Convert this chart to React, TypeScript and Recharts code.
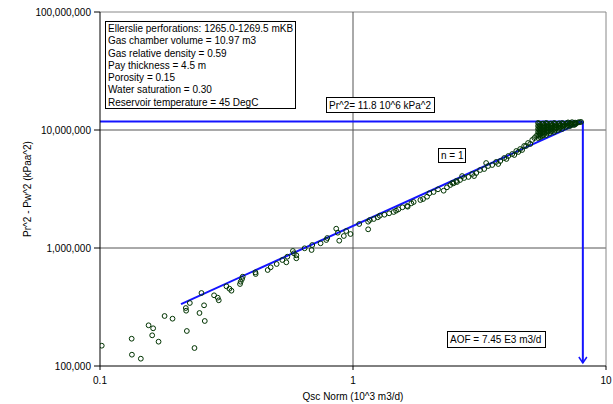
import {
  ComposedChart,
  Scatter,
  XAxis,
  YAxis,
  ReferenceLine,
} from "recharts";

// Qsc Norm (10^3 m3/d) and Pr^2 - Pw^2 (kPa^2), same order
const qscNorm = [
  0.1016, 0.1334, 0.1337, 0.145, 0.1556, 0.1622, 0.1608, 0.1704, 0.18, 0.1935,
  0.2184, 0.219, 0.2265, 0.2204, 0.2363, 0.2473, 0.2518, 0.2578, 0.2595, 0.2824,
  0.292, 0.2947, 0.3161, 0.3248, 0.3308, 0.3576, 0.3599, 0.3642, 0.3665, 0.4124,
  0.4113, 0.46, 0.4726, 0.4992, 0.5256, 0.5451, 0.5501,
  0.5787, 0.584, 0.5971, 0.5971, 0.6438, 0.6903, 0.686, 0.7445, 0.784, 0.7912,
  0.8584, 0.871, 0.8823, 0.9198, 0.9401, 0.9775, 1.058, 1.148, 1.148, 1.165,
  1.208, 1.253, 1.276, 1.331, 1.389, 1.448, 1.48, 1.512, 1.568, 1.636, 1.645,
  1.701, 1.737, 1.846, 1.892, 1.962, 2.004, 2.083, 2.168, 2.282, 2.352, 2.424, 2.498, 2.577,
  2.47, 2.56, 2.65, 2.75, 2.86, 2.96, 3.07, 3.18, 3.3, 3.42, 3.55,
  3.68, 3.82, 3.96, 4.11, 4.26, 4.42, 4.58, 4.75, 4.92, 5.11, 5.3,
  2.7, 3.01, 3.36, 3.75, 4.04, 4.34, 4.5, 4.66, 4.83, 5.02, 5.21,
  5.39, 5.39, 5.39, 5.39, 5.39, 5.39,
  5.59, 5.59, 5.59, 5.59, 5.59,
  5.8, 5.8, 5.8, 5.8, 5.8,
  6.01, 6.01, 6.01, 6.01,
  6.24, 6.24, 6.24, 6.24,
  6.47, 6.47, 6.47,
  6.71, 6.71, 6.71,
  6.95, 6.95, 7.21, 7.21, 7.48, 7.48, 7.75, 7.97,
  5.49, 5.49, 5.49, 5.49, 5.49,
  5.7, 5.7, 5.7, 5.7,
  5.9, 5.9, 5.9, 6.12, 6.12, 6.12,
  6.35, 6.35, 6.59, 6.59, 6.83, 7.08, 7.08, 7.34, 7.34, 7.61,
  5.44, 5.44, 5.44, 5.44, 5.44,
  5.64, 5.64, 5.64, 5.64, 5.64,
  5.85, 5.85, 5.85, 5.85,
  6.06, 6.06, 6.06, 6.06,
  6.29, 6.29, 6.29,
  6.53, 6.53, 6.53,
  6.77, 6.77, 7.01, 7.01, 7.27, 7.27, 7.55, 7.55, 7.85,
];

const deltaP2 = [
  148600, 170300, 124700, 115300, 221300, 208700, 182000, 160700, 265300, 251700,
  310000, 294200, 342000, 198000, 142000, 281300, 415600, 326900, 240700, 397400,
  379200, 360500, 473500, 451900, 434600, 495200, 518000, 546100, 571200, 602100,
  622400, 651000, 686200, 731700, 791200, 756400, 843700,
  943300, 901900, 867300, 817900, 994300, 1060000, 961800, 1096000, 1169000, 1215000,
  1457000, 1348000, 1153000, 1264000, 1393000, 1314000, 1597000, 1440000, 1671000, 1727000,
  1761000, 1821000, 1878000, 1915000, 1968000, 2019000, 2071000, 2128000, 2213000, 2270000, 2239000,
  2392000, 2453000, 2551000, 2601000, 2721000, 2908000, 2983000, 3144000, 3059000, 3268000, 3419000, 3534000, 3625000,
  3560000, 3700000, 3770000, 3920000, 4000000, 4240000, 4320000, 4580000, 4670000, 4950000, 5050000,
  5360000, 5460000, 5790000, 6020000, 6260000, 6640000, 6900000, 7320000, 7760000, 8230000, 8900000,
  4070000, 4070000, 5250000, 5150000, 5680000, 6140000, 6510000, 6770000, 7320000, 7610000, 8550000,
  11470000, 10810000, 10200000, 9620000, 9070000, 8550000,
  11240000, 10600000, 10000000, 9430000, 8900000,
  11470000, 10810000, 10200000, 9620000, 9070000,
  11240000, 10600000, 10000000, 9430000,
  11470000, 10810000, 10200000, 9620000,
  11240000, 10600000, 10000000,
  11470000, 10810000, 10200000,
  11240000, 10600000, 11470000, 10810000, 11470000, 11020000, 11600000, 11700000,
  11000000, 10400000, 9800000, 9250000, 8700000,
  11000000, 10400000, 9800000, 9250000,
  11000000, 10400000, 9800000, 11000000, 10400000, 9800000,
  11000000, 10400000, 11000000, 10400000, 11000000, 11000000, 11600000, 11200000, 11650000, 11300000,
  11300000, 10700000, 10100000, 9500000, 8950000,
  11350000, 10700000, 10100000, 9550000, 9000000,
  11300000, 10650000, 10050000, 9450000,
  11350000, 10800000, 10200000, 9700000,
  11300000, 10650000, 10000000,
  11400000, 10800000, 10250000,
  11300000, 10700000, 11450000, 10850000, 11300000, 11000000, 11550000, 11200000, 11650000,
];

const xTicks = [0.1, 1, 10];
const yTicks = [100000, 1000000, 10000000, 100000000];

const prSquared = 11800000;
const aofAxis = 8.1;
const fitStart = { x: 0.209, y: 335000 };

const infoLines = [
  "Ellerslie perforations: 1265.0-1269.5 mKB",
  "Gas chamber volume = 10.97 m3",
  "Gas relative density = 0.59",
  "Pay thickness = 4.5 m",
  "Porosity = 0.15",
  "Water saturation = 0.30",
  "Reservoir temperature = 45 DegC",
];

const points = qscNorm.map((x, i) => ({ x, y: deltaP2[i] }));

const BLUE = "#1414ff";
const GREEN = "#003300";

function HollowDot(props: any) {
  const { cx, cy } = props;
  if (cx == null || cy == null) return <g />;
  return <circle cx={cx} cy={cy} r={2.4} fill="none" stroke={GREEN} strokeWidth={1} />;
}

function ArrowDown(props: any) {
  const { x1, y1, x2, y2 } = props;
  return (
    <g>
      <line x1={x1} y1={y1} x2={x2} y2={y2 - 3} stroke={BLUE} strokeWidth={2} />
      <path
        d={`M${x2 - 4},${y2 - 9} L${x2},${y2 - 3} L${x2 + 4},${y2 - 9}`}
        fill="none"
        stroke={BLUE}
        strokeWidth={1.5}
      />
    </g>
  );
}

const boxStyle: any = {
  position: "absolute",
  boxSizing: "border-box",
  border: "1px solid #000",
  background: "#fff",
  fontSize: 10,
  color: "#000",
  whiteSpace: "nowrap",
  display: "flex",
  alignItems: "center",
  paddingLeft: 2,
};

export default function App() {
  return (
    <div
      style={{
        position: "absolute",
        left: 0,
        top: 0,
        width: 613,
        height: 404,
        background: "#fff",
        fontFamily: "'Liberation Sans', Arial, sans-serif",
      }}
    >
      <ComposedChart
        width={613}
        height={404}
        data={points}
        margin={{ top: 12, right: 7, bottom: 0, left: 0 }}
      >
        <XAxis
          dataKey="x"
          type="number"
          scale="log"
          domain={[0.1, 10]}
          ticks={xTicks}
          allowDataOverflow
          height={38}
          stroke="#000"
          tickSize={4}
          tickMargin={7}
          tick={{ fontSize: 10, fill: "#000" }}
          tickFormatter={(v: number) => String(v)}
          label={{
            value: "Qsc Norm (10^3 m3/d)",
            position: "insideBottom",
            offset: 4,
            fontSize: 10,
            fill: "#000",
          }}
        />
        <YAxis
          dataKey="y"
          type="number"
          scale="log"
          domain={[100000, 100000000]}
          ticks={yTicks}
          allowDataOverflow
          width={100}
          stroke="#000"
          tickSize={6}
          tickMargin={3}
          tick={{ fontSize: 10, fill: "#000" }}
          tickFormatter={(v: number) => v.toLocaleString("en-US")}
        />

        <ReferenceLine y={1000000} stroke="#555" />
        <ReferenceLine y={10000000} stroke="#555" />
        <ReferenceLine y={100000000} stroke="#888" />
        <ReferenceLine x={1} stroke="#555" />
        <ReferenceLine x={10} stroke="#888" />

        <Scatter
          data={points}
          dataKey="y"
          shape={HollowDot}
          isAnimationActive={false}
        />

        <ReferenceLine
          segment={[
            { x: fitStart.x, y: fitStart.y },
            { x: aofAxis, y: prSquared },
          ]}
          stroke={BLUE}
          strokeWidth={2}
          ifOverflow="visible"
        />
        <ReferenceLine
          segment={[
            { x: 0.1, y: prSquared },
            { x: aofAxis, y: prSquared },
          ]}
          stroke={BLUE}
          strokeWidth={2}
          ifOverflow="visible"
        />
        <ReferenceLine
          segment={[
            { x: aofAxis, y: prSquared },
            { x: aofAxis, y: 100000 },
          ]}
          ifOverflow="visible"
          shape={ArrowDown}
        />
      </ComposedChart>

      <div
        style={{
          position: "absolute",
          left: 27,
          top: 189,
          transform: "translate(-50%, -50%) rotate(-90deg)",
          fontSize: 10,
          whiteSpace: "nowrap",
          color: "#000",
        }}
      >
        Pr^2 - Pw^2 (kPaa^2)
      </div>

      <div
        style={{
          ...boxStyle,
          left: 105,
          top: 21,
          width: 191,
          height: 88,
          display: "block",
          lineHeight: "12.3px",
          paddingTop: 1,
        }}
      >
        {infoLines.map((t) => (
          <div key={t}>{t}</div>
        ))}
      </div>

      <div style={{ ...boxStyle, left: 326, top: 97, width: 109, height: 16 }}>
        Pr^2= 11.8 10^6 kPa^2
      </div>
      <div style={{ ...boxStyle, left: 438, top: 148, width: 28, height: 15 }}>
        n = 1
      </div>
      <div style={{ ...boxStyle, left: 447, top: 331, width: 99, height: 17 }}>
        AOF = 7.45 E3 m3/d
      </div>
    </div>
  );
}
